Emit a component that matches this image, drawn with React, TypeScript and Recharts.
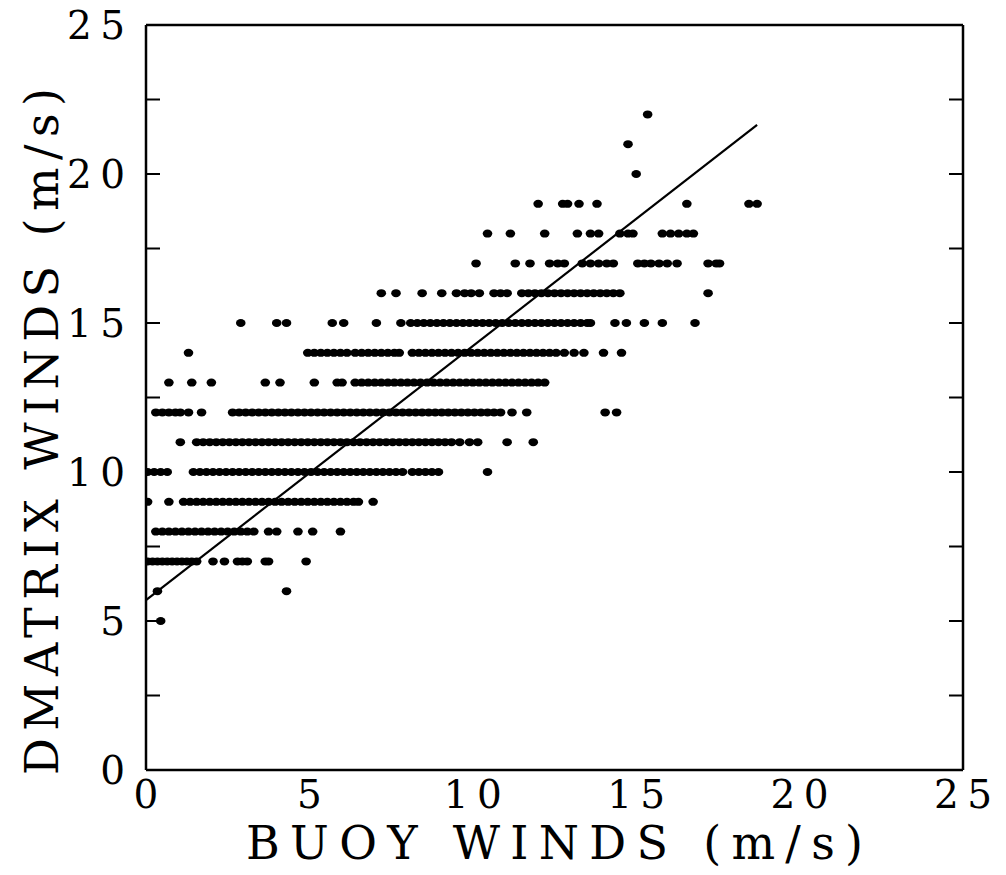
import { ScatterChart, Scatter, XAxis, YAxis, ReferenceLine, Label } from 'recharts'

const FONT = '"DejaVu Serif", "Liberation Serif", serif'

const xTicks = [0, 5, 10, 15, 20, 25]
const yTicks = [0, 5, 10, 15, 20, 25]
const minorTicks = [2.5, 5, 7.5, 10, 12.5, 15, 17.5, 20, 22.5]

// dmatrix winds come in whole m/s, so each row holds the buoy values at one level
const dmatrixLevels = [5, 6, 7, 8, 9, 10, 11, 12, 13, 14, 15, 16, 17, 18, 19, 20, 21, 22]

const buoyAt5 = [0.45]
const buoyAt6 = [0.35, 4.3]
const buoyAt7 = [0.05, 0.2, 0.35, 0.5, 0.65, 0.8, 0.95, 1.1, 1.25, 1.4, 1.55, 2.05, 2.4, 2.8, 2.95, 3.1, 3.65, 3.75, 4.9]
const buoyAt8 = [0.3, 0.5, 0.7, 0.9, 1.1, 1.3, 1.5, 1.7, 1.9, 2.1, 2.3, 2.5, 2.7, 2.9, 3.1, 3.3, 3.75, 4.0, 4.65, 5.1, 5.95]
const buoyAt9 = [
  0.05, 0.7, 1.15, 1.35, 1.55, 1.75, 1.95, 2.15, 2.35, 2.55, 2.75, 2.95, 3.15, 3.35, 3.55, 3.75, 3.95, 4.15, 4.35,
  4.55, 4.75, 4.95, 5.15, 5.35, 5.55, 5.75, 5.95, 6.15, 6.35, 6.5, 6.95,
]
const buoyAt10 = [
  0.05, 0.25, 0.45, 0.65, 1.45, 1.65, 1.85, 2.05, 2.25, 2.45, 2.65, 2.85, 3.05, 3.25, 3.45, 3.65, 3.85, 4.05, 4.25,
  4.45, 4.65, 4.85, 5.05, 5.25, 5.45, 5.65, 5.85, 6.05, 6.25, 6.45, 6.65, 6.85, 7.05, 7.25, 7.45, 7.65, 7.85, 8.15,
  8.35, 8.55, 8.75, 8.95, 10.45,
]
const buoyAt11 = [
  1.05, 1.55, 1.75, 1.95, 2.15, 2.35, 2.55, 2.75, 2.95, 3.15, 3.35, 3.55, 3.75, 3.95, 4.15, 4.35, 4.55, 4.75, 4.95,
  5.15, 5.35, 5.55, 5.75, 5.95, 6.15, 6.35, 6.55, 6.75, 6.95, 7.15, 7.35, 7.55, 7.75, 7.95, 8.15, 8.35, 8.55, 8.75,
  8.95, 9.15, 9.35, 9.6, 9.9, 10.15, 11.05, 11.85,
]
const buoyAt12 = [
  0.3, 0.5, 0.7, 0.9, 1.05, 1.3, 1.7, 2.65, 2.85, 3.05, 3.25, 3.45, 3.65, 3.85, 4.05, 4.25, 4.45, 4.65, 4.85, 5.05,
  5.25, 5.45, 5.65, 5.85, 6.05, 6.25, 6.45, 6.65, 6.85, 7.05, 7.25, 7.45, 7.65, 7.85, 8.05, 8.25, 8.45, 8.65, 8.85,
  9.05, 9.25, 9.45, 9.65, 9.85, 10.05, 10.25, 10.45, 10.65, 10.85, 11.2, 11.65, 14.05, 14.4,
]
const buoyAt13 = [
  0.7, 1.4, 2.0, 3.65, 4.1, 5.15, 5.85, 6.0, 6.4, 6.6, 6.8, 7.0, 7.2, 7.4, 7.6, 7.8, 8.0, 8.2, 8.4, 8.6, 8.8, 9.0,
  9.2, 9.4, 9.6, 9.8, 10.0, 10.2, 10.4, 10.6, 10.8, 11.0, 11.2, 11.4, 11.6, 11.8, 12.0, 12.2,
]
const buoyAt14 = [
  1.3, 4.95, 5.15, 5.35, 5.55, 5.75, 5.95, 6.15, 6.4, 6.6, 6.8, 7.0, 7.2, 7.4, 7.6, 7.75, 8.15, 8.35, 8.55, 8.75,
  8.95, 9.15, 9.35, 9.55, 9.75, 9.95, 10.15, 10.35, 10.55, 10.75, 10.95, 11.15, 11.35, 11.55, 11.75, 11.95, 12.15,
  12.35, 12.55, 12.8, 13.1, 13.4, 14.0, 14.55,
]
const buoyAt15 = [
  2.9, 4.0, 4.3, 5.7, 6.05, 7.05, 7.8, 8.1, 8.3, 8.5, 8.7, 8.9, 9.1, 9.3, 9.5, 9.7, 9.9, 10.1, 10.3, 10.5, 10.7,
  10.9, 11.1, 11.3, 11.5, 11.7, 11.9, 12.1, 12.3, 12.5, 12.7, 12.9, 13.1, 13.3, 13.5, 13.6, 14.35, 14.7, 15.25,
  15.8, 16.8,
]
const buoyAt16 = [
  7.2, 7.65, 8.45, 9.05, 9.5, 9.75, 9.95, 10.2, 10.65, 10.85, 11.05, 11.5, 11.7, 11.9, 12.1, 12.3, 12.5, 12.7, 12.9,
  13.1, 13.3, 13.5, 13.7, 13.9, 14.1, 14.3, 14.5, 17.2,
]
const buoyAt17 = [
  10.1, 11.3, 11.75, 12.35, 12.6, 12.8, 13.35, 13.6, 13.85, 14.1, 14.3, 15.05, 15.25, 15.45, 15.7, 15.95, 16.25,
  17.2, 17.45, 17.55,
]
const buoyAt18 = [10.45, 11.15, 12.2, 13.2, 13.6, 13.85, 14.5, 14.75, 14.9, 15.8, 16.05, 16.3, 16.55, 16.75]
const buoyAt19 = [12.0, 12.75, 12.9, 13.25, 13.8, 16.55, 18.45, 18.7]
const buoyAt20 = [15.0]
const buoyAt21 = [14.75]
const buoyAt22 = [15.35]

const buoyRows = [
  buoyAt5, buoyAt6, buoyAt7, buoyAt8, buoyAt9, buoyAt10, buoyAt11, buoyAt12, buoyAt13,
  buoyAt14, buoyAt15, buoyAt16, buoyAt17, buoyAt18, buoyAt19, buoyAt20, buoyAt21, buoyAt22,
]

// fitted line, end points
const fitBuoy = [0, 18.7]
const fitDmatrix = [5.7, 21.65]

const points = dmatrixLevels.flatMap((level, i) => buoyRows[i].map((x) => ({ x, y: level })))
const fitSegment = fitBuoy.map((x, i) => ({ x, y: fitDmatrix[i] }))

const axisStroke = { stroke: '#000', strokeWidth: 2.5 }
const tickStroke = { stroke: '#000', strokeWidth: 2 }

function Dot(props: any) {
  return <ellipse cx={props.cx} cy={props.cy} rx={4.8} ry={4} fill="#000" />
}

// tick marks only, no text
function NoLabel() {
  return <g />
}

// the old plotter font spreads its digits out, so two-digit labels get a fixed length
function tickText(value: number) {
  return String(value).length > 1 ? { textLength: 58, lengthAdjust: 'spacing' } : {}
}

function XTick({ x, y, payload }: any) {
  return (
    <text x={x} y={y + 38} textAnchor="middle" fontFamily={FONT} fontSize={39} fill="#000" {...tickText(payload.value)}>
      {payload.value}
    </text>
  )
}

function YTick({ x, y, payload }: any) {
  return (
    <text x={x - 21} y={y + 14} textAnchor="end" fontFamily={FONT} fontSize={39} fill="#000" {...tickText(payload.value)}>
      {payload.value}
    </text>
  )
}

function XTitle(props: any) {
  const vb = props.viewBox
  return (
    <text
      x={vb.x + vb.width / 2}
      y={859}
      textAnchor="middle"
      fontFamily={FONT}
      fontSize={46}
      textLength={617}
      lengthAdjust="spacing"
      fill="#000"
    >
      BUOY WINDS (m/s)
    </text>
  )
}

function YTitle(props: any) {
  const vb = props.viewBox
  const cy = vb.y + vb.height / 2 + 34
  return (
    <text
      x={58}
      y={cy}
      transform={`rotate(-90 58 ${cy})`}
      textAnchor="middle"
      fontFamily={FONT}
      fontSize={46}
      textLength={687}
      lengthAdjust="spacing"
      fill="#000"
    >
      DMATRIX WINDS (m/s)
    </text>
  )
}

export default function App() {
  return (
    <div style={{ position: 'absolute', left: 0, top: 0, background: '#fff' }}>
      <ScatterChart width={1006} height={875} margin={{ top: 25, right: 43, bottom: 25, left: 46 }}>
        <XAxis
          xAxisId="x"
          type="number"
          dataKey="x"
          domain={[0, 25]}
          ticks={xTicks}
          interval={0}
          allowDataOverflow
          height={80}
          tickLine={false}
          tickSize={0}
          tickMargin={0}
          axisLine={axisStroke}
          tick={<XTick />}
        >
          <Label content={XTitle} />
        </XAxis>
        <XAxis
          xAxisId="xb"
          type="number"
          orientation="bottom"
          mirror
          domain={[0, 25]}
          ticks={minorTicks}
          interval={0}
          allowDataOverflow
          tick={<NoLabel />}
          axisLine={false}
          tickSize={14}
          tickLine={tickStroke}
        />
        <XAxis
          xAxisId="xt"
          type="number"
          orientation="top"
          mirror
          domain={[0, 25]}
          ticks={minorTicks}
          interval={0}
          allowDataOverflow
          tick={<NoLabel />}
          axisLine={axisStroke}
          tickSize={14}
          tickLine={tickStroke}
        />
        <YAxis
          yAxisId="y"
          type="number"
          dataKey="y"
          domain={[0, 25]}
          ticks={yTicks}
          interval={0}
          allowDataOverflow
          width={100}
          tickLine={false}
          tickSize={0}
          tickMargin={0}
          axisLine={axisStroke}
          tick={<YTick />}
        >
          <Label content={YTitle} />
        </YAxis>
        <YAxis
          yAxisId="yl"
          type="number"
          orientation="left"
          mirror
          domain={[0, 25]}
          ticks={minorTicks}
          interval={0}
          allowDataOverflow
          tick={<NoLabel />}
          axisLine={false}
          tickSize={14}
          tickLine={tickStroke}
        />
        <YAxis
          yAxisId="yr"
          type="number"
          orientation="right"
          mirror
          domain={[0, 25]}
          ticks={minorTicks}
          interval={0}
          allowDataOverflow
          tick={<NoLabel />}
          axisLine={axisStroke}
          tickSize={14}
          tickLine={tickStroke}
        />
        <Scatter data={points} xAxisId="x" yAxisId="y" shape={Dot} isAnimationActive={false} />
        <ReferenceLine xAxisId="x" yAxisId="y" segment={fitSegment} stroke="#000" strokeWidth={2.2} ifOverflow="visible" />
      </ScatterChart>
    </div>
  )
}
